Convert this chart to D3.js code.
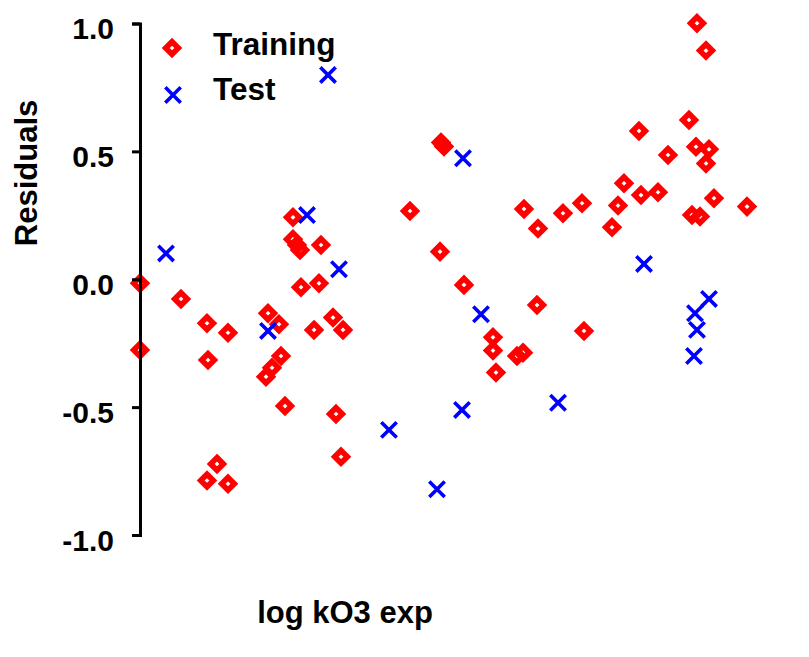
<!DOCTYPE html>
<html lang="en">
<head>
<meta charset="UTF-8">
<title>Residuals</title>
<style>
  body { margin: 0; background: #fff; }
  text { font-family: "Liberation Sans", Arial, sans-serif; font-weight: bold; }
</style>
</head>
<body>
<script src="https://d3js.org/d3.v7.min.js"></script>
<script>
// training set: log kO3 exp (arbitrary offset) and residual
const trainX = [0.00, 0.00, 0.41, 0.67, 0.88, 0.68, 0.77, 0.67, 0.88, 1.53, 1.53, 1.57, 1.60, 1.81, 1.61, 1.79,
  1.28, 1.39, 1.74, 1.93, 2.03, 1.41, 1.32, 1.26, 1.45, 1.96, 2.01,
  5.57, 5.66, 3.01, 3.04, 2.70, 3.84, 3.98, 4.23, 4.42, 3.00, 3.24, 4.99, 5.49, 5.56, 5.69, 5.66, 5.28,
  4.84, 4.78, 5.01, 5.18, 4.72, 5.74, 6.07, 5.52, 5.60,
  3.53, 3.53, 3.56, 3.77, 3.83, 4.44, 3.97];
const trainY = [-0.016, -0.277, -0.077, -0.172, -0.209, -0.316, -0.722, -0.787, -0.80, 0.242, 0.156, 0.134, 0.114, 0.134, -0.031, -0.016,
  -0.133, -0.176, -0.198, -0.150, -0.198, -0.300, -0.346, -0.381, -0.496, -0.527, -0.694,
  1.001, 0.894, 0.535, 0.519, 0.267, 0.275, 0.198, 0.258, 0.297, 0.108, -0.022, 0.580, 0.623, 0.518, 0.508, 0.453, 0.486,
  0.375, 0.288, 0.329, 0.340, 0.203, 0.317, 0.284, 0.251, 0.245,
  -0.227, -0.279, -0.365, -0.300, -0.287, -0.202, -0.101];

// test set
const testX = [0.26, 1.88, 1.67, 1.99, 1.28, 2.49, 3.23, 5.04, 3.41, 3.22, 4.18, 2.97, 5.69, 5.55, 5.57, 5.54];
const testY = [0.101, 0.799, 0.251, 0.039, -0.202, -0.589, 0.473, 0.060, -0.137, -0.511, -0.483, -0.821, -0.077, -0.133, -0.198, -0.300];

const yTicks = [-1, -0.5, 0, 0.5, 1];
const yTickLabels = ["-1.0", "-0.5", "0.0", "0.5", "1.0"];
const seriesNames = ["Training", "Test"];

const w = 809, h = 657;
const svg = d3.select("body").append("svg")
  .attr("width", w)
  .attr("height", h);

const x = d3.scaleLinear().domain([0, 6.2]).range([140, 760]);
const y = d3.scaleLinear().domain([-1, 1]).range([535, 23.5]);

const red = "#ff0000", blue = "#0000ff";
const diamond = "M0,-6.3L6.3,0L0,6.3L-6.3,0Z";
const cross = "M-7.7,-7.7L7.7,7.7M-7.7,7.7L7.7,-7.7";

const train = trainX.map((v, i) => ({x: v, y: trainY[i]}));
const test = testX.map((v, i) => ({x: v, y: testY[i]}));

svg.append("g").selectAll("path").data(train).enter().append("path")
  .attr("d", diamond)
  .attr("transform", d => `translate(${x(d.x)},${y(d.y)})`)
  .attr("fill", "none")
  .attr("stroke", red)
  .attr("stroke-width", 5.6);

svg.append("g").selectAll("path").data(test).enter().append("path")
  .attr("d", cross)
  .attr("transform", d => `translate(${x(d.x)},${y(d.y)})`)
  .attr("fill", "none")
  .attr("stroke", blue)
  .attr("stroke-width", 3.6);

// y axis
const yAxis = d3.axisLeft(y)
  .tickValues(yTicks)
  .tickFormat((d, i) => yTickLabels[i])
  .tickSize(8)
  .tickPadding(18);

const gy = svg.append("g")
  .attr("transform", "translate(140,0)")
  .call(yAxis);
gy.select(".domain").attr("stroke", "#000").attr("stroke-width", 3);
gy.selectAll(".tick line").attr("stroke", "#000").attr("stroke-width", 3);
gy.selectAll(".tick text")
  .attr("fill", "#000")
  .attr("dy", "0.5em")
  .style("font-size", "30px")
  .style("font-family", "'Liberation Sans', Arial, sans-serif")
  .style("font-weight", "bold");

// axis titles
svg.append("text")
  .attr("transform", "translate(37,173) rotate(-90)")
  .attr("text-anchor", "middle")
  .style("font-size", "31px")
  .text("Residuals");

svg.append("text")
  .attr("x", 345)
  .attr("y", 623)
  .attr("text-anchor", "middle")
  .style("font-size", "31px")
  .text("log kO3 exp");

// legend
const legend = svg.append("g");
legend.append("path")
  .attr("d", diamond)
  .attr("transform", "translate(172,48)")
  .attr("fill", "none")
  .attr("stroke", red)
  .attr("stroke-width", 5.6);
legend.append("path")
  .attr("d", cross)
  .attr("transform", "translate(173,95)")
  .attr("fill", "none")
  .attr("stroke", blue)
  .attr("stroke-width", 3.6);
legend.selectAll("text").data(seriesNames).enter().append("text")
  .attr("x", 213)
  .attr("y", (d, i) => 55 + i * 45)
  .style("font-size", "31.5px")
  .text(d => d);
</script>
</body>
</html>
